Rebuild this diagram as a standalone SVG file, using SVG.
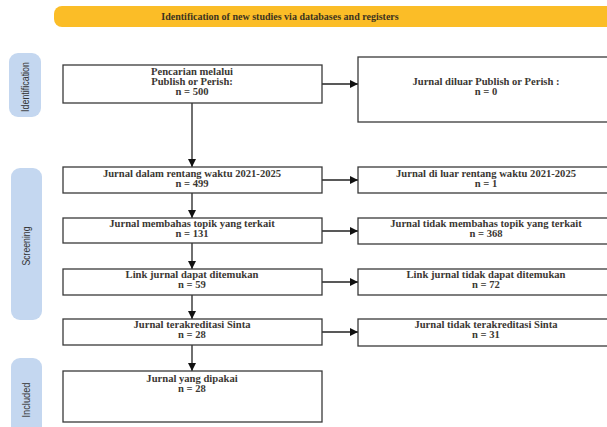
<svg xmlns="http://www.w3.org/2000/svg" width="607" height="427" viewBox="0 0 607 427">
<defs>
<style>
.bg{fill:#ffffff}
.banner{fill:#fbbd27}
.pill{fill:#c4d7f0}
.box{fill:#ffffff;stroke:#3a3a3a;stroke-width:1.3}
.t{font-family:"Liberation Serif","Times New Roman",serif;font-weight:bold;font-size:10.6px;fill:#3b3833;text-anchor:middle}
.bt{font-family:"Liberation Serif","Times New Roman",serif;font-weight:bold;font-size:10px;fill:#3b3320;text-anchor:middle}
.side{font-family:"Liberation Sans",Arial,sans-serif;font-size:10px;fill:#333333;text-anchor:middle}
.ln{stroke:#222222;stroke-width:1.3;fill:none}
</style>
<marker id="ah" viewBox="0 0 10 10" refX="10" refY="5" markerWidth="8" markerHeight="8" markerUnits="userSpaceOnUse" orient="auto">
<path d="M0,0 L10,5 L0,10 z" fill="#111111"/>
</marker>
</defs>
<rect class="bg" x="0" y="0" width="607" height="427"/>
<g id="banner">
<rect class="banner" x="54" y="6" width="570" height="21" rx="8"/>
<text class="bt" x="280" y="19.5">Identification of new studies via databases and registers</text>
</g>
<g id="phase-identification">
<rect class="pill" x="9" y="53" width="32" height="64" rx="9"/>
<text class="side" transform="translate(28.5,87) rotate(-90)" textLength="50" lengthAdjust="spacingAndGlyphs">Identification</text>
</g>
<g id="phase-screening">
<rect class="pill" x="11" y="168" width="31" height="152" rx="9"/>
<text class="side" transform="translate(29.5,246) rotate(-90)" textLength="39" lengthAdjust="spacingAndGlyphs">Screening</text>
</g>
<g id="phase-included">
<rect class="pill" x="11" y="358" width="31" height="80" rx="9"/>
<text class="side" transform="translate(29.5,400) rotate(-90)" textLength="35" lengthAdjust="spacingAndGlyphs">Included</text>
</g>
<g id="connectors">
<line class="ln" x1="192" y1="103" x2="192" y2="167" marker-end="url(#ah)"/>
<line class="ln" x1="192" y1="193" x2="192" y2="218" marker-end="url(#ah)"/>
<line class="ln" x1="192" y1="243" x2="192" y2="269" marker-end="url(#ah)"/>
<line class="ln" x1="192" y1="295" x2="192" y2="319" marker-end="url(#ah)"/>
<line class="ln" x1="192" y1="345" x2="192" y2="371" marker-end="url(#ah)"/>
<line class="ln" x1="322" y1="84" x2="358" y2="84" marker-end="url(#ah)"/>
<line class="ln" x1="322" y1="180" x2="358" y2="180" marker-end="url(#ah)"/>
<line class="ln" x1="322" y1="231" x2="358" y2="231" marker-end="url(#ah)"/>
<line class="ln" x1="322" y1="282" x2="358" y2="282" marker-end="url(#ah)"/>
<line class="ln" x1="322" y1="332" x2="358" y2="332" marker-end="url(#ah)"/>
</g>
<g id="n-search">
<rect class="box" x="63" y="65" width="259" height="38"/>
<text class="t" x="192" y="75">Pencarian melalui</text>
<text class="t" x="192" y="85">Publish or Perish:</text>
<text class="t" x="192" y="95">n = 500</text>
</g>
<g id="n-outside-pop">
<rect class="box" x="358" y="57" width="260" height="65"/>
<text class="t" x="486" y="85">Jurnal diluar Publish or Perish :</text>
<text class="t" x="486" y="95">n = 0</text>
</g>
<g id="n-range">
<rect class="box" x="63" y="167" width="259" height="26"/>
<text class="t" x="192" y="177">Jurnal dalam rentang waktu 2021-2025</text>
<text class="t" x="192" y="187">n = 499</text>
</g>
<g id="n-out-range">
<rect class="box" x="358" y="167" width="260" height="26"/>
<text class="t" x="486" y="177">Jurnal di luar rentang waktu 2021-2025</text>
<text class="t" x="486" y="187">n = 1</text>
</g>
<g id="n-topic">
<rect class="box" x="63" y="218" width="259" height="25"/>
<text class="t" x="192" y="227">Jurnal membahas topik yang terkait</text>
<text class="t" x="192" y="237">n = 131</text>
</g>
<g id="n-no-topic">
<rect class="box" x="358" y="218" width="260" height="26"/>
<text class="t" x="486" y="227">Jurnal tidak membahas topik yang terkait</text>
<text class="t" x="486" y="237">n = 368</text>
</g>
<g id="n-link">
<rect class="box" x="63" y="269" width="259" height="26"/>
<text class="t" x="192" y="278">Link jurnal dapat ditemukan</text>
<text class="t" x="192" y="288">n = 59</text>
</g>
<g id="n-no-link">
<rect class="box" x="358" y="269" width="260" height="26"/>
<text class="t" x="486" y="278">Link jurnal tidak dapat ditemukan</text>
<text class="t" x="486" y="288">n = 72</text>
</g>
<g id="n-sinta">
<rect class="box" x="63" y="319" width="259" height="26"/>
<text class="t" x="192" y="328">Jurnal terakreditasi Sinta</text>
<text class="t" x="192" y="338">n = 28</text>
</g>
<g id="n-no-sinta">
<rect class="box" x="358" y="319" width="260" height="27"/>
<text class="t" x="486" y="328">Jurnal tidak terakreditasi Sinta</text>
<text class="t" x="486" y="338">n = 31</text>
</g>
<g id="n-used">
<rect class="box" x="63" y="371" width="259" height="51"/>
<text class="t" x="192" y="382">Jurnal yang dipakai</text>
<text class="t" x="192" y="392">n = 28</text>
</g>
</svg>
